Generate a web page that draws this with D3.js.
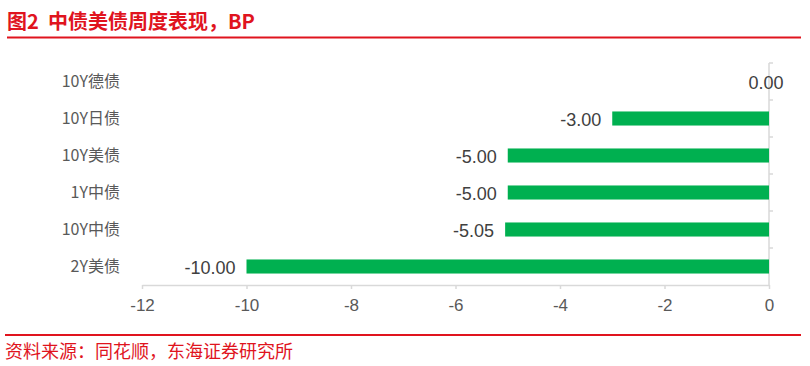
<!DOCTYPE html>
<html>
<head>
<meta charset="utf-8">
<script src="https://cdn.jsdelivr.net/npm/d3@7"></script>
<style>
  body { margin: 0; background: #fff; }
  svg { display: block; font-family: "Noto Sans CJK SC", "Liberation Sans", sans-serif; }
</style>
</head>
<body>
<svg id="chart"></svg>
<script>
const width = 810;
const height = 366;

// data, top to bottom
const categories = ["10Y德债", "10Y日债", "10Y美债", "1Y中债", "10Y中债", "2Y美债"];
const values = [0, -3, -5, -5, -5.05, -10];
const xTicks = [-12, -10, -8, -6, -4, -2, 0];

const red = "#e0141e";
const svg = d3.select("#chart").attr("width", width).attr("height", height);

// title + rule
svg.append("text")
  .attr("x", 7).attr("y", 29)
  .attr("fill", red)
  .attr("font-size", 20).attr("font-weight", "bold")
  .text("图2\u00a0\u00a0中债美债周度表现，BP");
svg.append("line")
  .attr("x1", 7).attr("x2", 801).attr("y1", 37.5).attr("y2", 37.5)
  .attr("stroke", red).attr("stroke-width", 2);

// scales
const x = d3.scaleLinear().domain([-12, 0]).range([142, 769]);
const y = d3.scaleBand().domain(categories).range([63, 285]).paddingInner(0.62).paddingOuter(0.31);
const band = d3.scaleBand().domain(categories).range([63, 285]);

// x axis
const xAxis = svg.append("g")
  .attr("transform", "translate(0,285)")
  .call(d3.axisBottom(x).tickValues(xTicks).tickSize(4).tickSizeOuter(0).tickFormat(d3.format("d")));
xAxis.select(".domain").attr("stroke", "#d9d9d9").attr("stroke-width", 1.5);
xAxis.selectAll(".tick line").attr("stroke", "#d9d9d9").attr("stroke-width", 1.5);
xAxis.selectAll(".tick text")
  .attr("fill", "#595959").attr("font-size", 17).attr("y", 14).attr("dy", "0.71em")
  .attr("font-family", "Liberation Sans, sans-serif")
  .text(d => d < 0 ? "-" + Math.abs(d) : d);

// vertical axis at zero with category boundary ticks
svg.append("line")
  .attr("x1", x(0)).attr("x2", x(0)).attr("y1", 63).attr("y2", 285)
  .attr("stroke", "#d9d9d9").attr("stroke-width", 1.5);
svg.selectAll(".ytick")
  .data(categories)
  .enter().append("line")
  .attr("class", "ytick")
  .attr("x1", x(0)).attr("x2", x(0) + 4)
  .attr("y1", d => band(d)).attr("y2", d => band(d))
  .attr("stroke", "#d9d9d9").attr("stroke-width", 1.5);

// category labels
svg.selectAll(".cat")
  .data(categories)
  .enter().append("text")
  .attr("class", "cat")
  .attr("x", 120)
  .attr("y", d => band(d) + band.bandwidth() / 2)
  .attr("dy", "0.35em")
  .attr("text-anchor", "end")
  .attr("fill", "#595959")
  .attr("font-size", 16)
  .text(d => d);

// bars
svg.selectAll(".bar")
  .data(values)
  .enter().append("rect")
  .attr("class", "bar")
  .attr("x", d => x(d))
  .attr("y", (d, i) => y(categories[i]))
  .attr("width", d => x(0) - x(d))
  .attr("height", y.bandwidth())
  .attr("fill", "#00b050");

// value labels
svg.selectAll(".val")
  .data(values)
  .enter().append("text")
  .attr("class", "val")
  .attr("x", d => d === 0 ? x(0) - 3 : x(d) - 11)
  .attr("y", (d, i) => band(categories[i]) + band.bandwidth() / 2 + 1)
  .attr("dy", "0.35em")
  .attr("text-anchor", d => d === 0 ? "middle" : "end")
  .attr("fill", "#404040")
  .attr("font-size", 18)
  .attr("font-family", "Liberation Sans, sans-serif")
  .text(d => d3.format(".2f")(d).replace("−", "-"));

// source rule + text
svg.append("line")
  .attr("x1", 5).attr("x2", 801).attr("y1", 335).attr("y2", 335)
  .attr("stroke", red).attr("stroke-width", 2);
svg.append("text")
  .attr("x", 5).attr("y", 358)
  .attr("fill", red)
  .attr("font-size", 18)
  .text("资料来源：同花顺，东海证券研究所");
</script>
</body>
</html>
